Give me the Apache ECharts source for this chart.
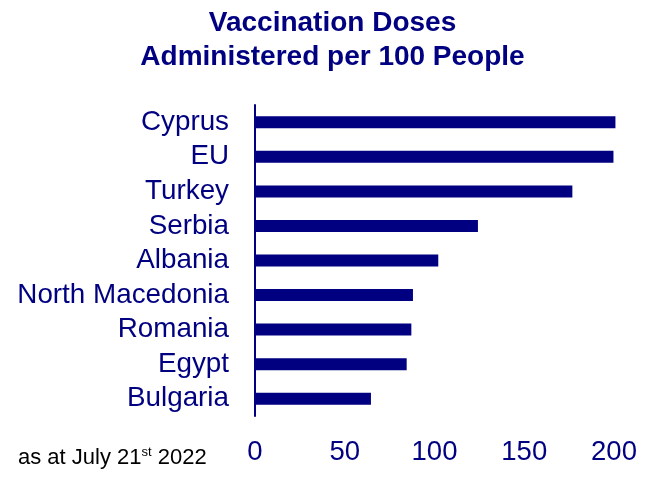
<!DOCTYPE html>
<html>
<head>
<meta charset="utf-8">
<script src="https://cdn.jsdelivr.net/npm/echarts@6/dist/echarts.min.js"></script>
<style>html,body{margin:0;padding:0;background:#fff;}#c{width:665px;height:481px;}</style>
</head>
<body>
<div id="c"></div>
<script>
const categories = ['Cyprus', 'EU', 'Turkey', 'Serbia', 'Albania', 'North Macedonia', 'Romania', 'Egypt', 'Bulgaria'];
const doses = [200.8, 199.7, 176.8, 124.2, 102.1, 88.0, 87.1, 84.5, 64.6];
const xTicks = [0, 50, 100, 150, 200];
const titleText = 'Vaccination Doses\nAdministered per 100 People';
const NAVY = '#000080';
const FONT = '"Liberation Sans", Arial, sans-serif';

const chart = echarts.init(document.getElementById('c'), null, {renderer: 'canvas'});
chart.setOption({
  animation: false,
  backgroundColor: '#ffffff',
  title: {
    text: titleText,
    left: 'center',
    top: 2,
    textStyle: {fontFamily: FONT, fontSize: 28, fontWeight: 'bold', color: NAVY, lineHeight: 33.5}
  },
  grid: {left: 255, right: 51, top: 105, bottom: 65, containLabel: false},
  xAxis: {
    type: 'value',
    min: xTicks[0],
    max: xTicks[xTicks.length - 1],
    interval: 50,
    axisLine: {show: false},
    axisTick: {show: false},
    splitLine: {show: false},
    axisLabel: {fontFamily: FONT, fontSize: 27.5, color: NAVY, margin: 22}
  },
  yAxis: {
    type: 'category',
    data: categories,
    inverse: true,
    axisLine: {show: true, lineStyle: {color: NAVY, width: 2}},
    axisTick: {show: false},
    axisLabel: {fontFamily: FONT, fontSize: 27.8, color: NAVY, margin: 26, interval: 0}
  },
  series: [{
    type: 'bar',
    data: doses,
    barWidth: 12,
    clip: false,
    itemStyle: {color: NAVY}
  }],
  graphic: [{
    type: 'text',
    left: 18,
    top: 446,
    style: {
      text: '{a|as at July 21}{s|st}{a| 2022}',
      rich: {
        a: {fontFamily: FONT, fontSize: 22, fill: '#000000'},
        s: {fontFamily: FONT, fontSize: 13, fill: '#000000', padding: [0, 0, 11, 0]}
      }
    }
  }]
});
</script>
</body>
</html>
